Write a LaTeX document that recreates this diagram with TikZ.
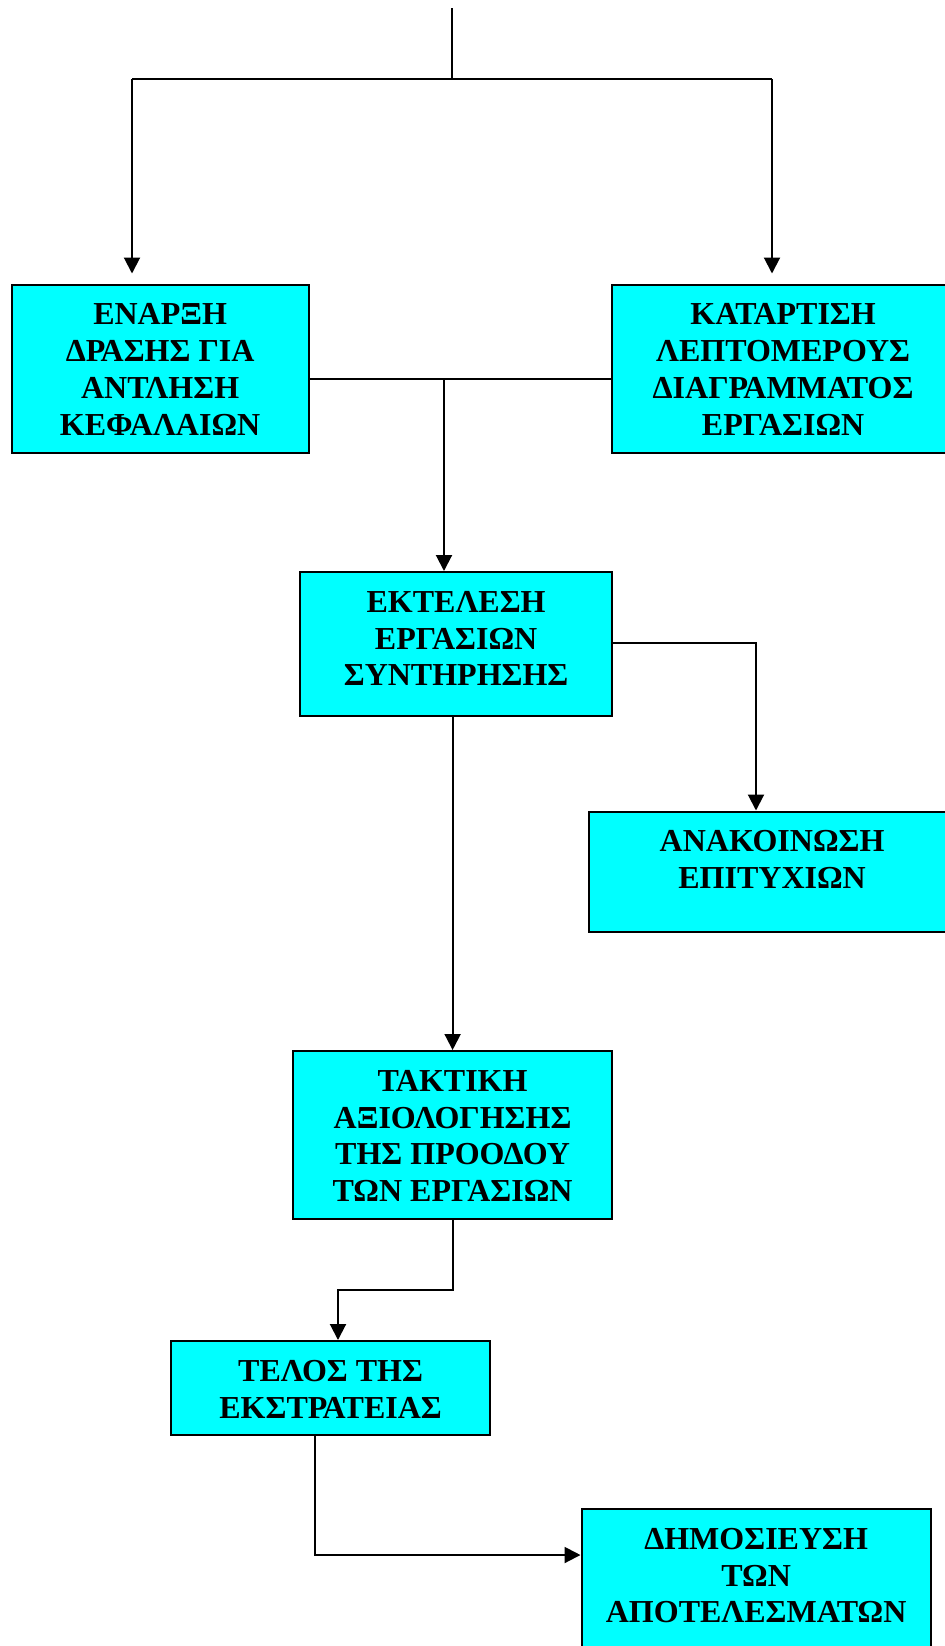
\documentclass[tikz,border=0pt]{standalone}
\usepackage{fontspec}
\setmainfont{Liberation Serif}
\usetikzlibrary{arrows.meta}
\definecolor{boxcyan}{RGB}{0,255,255}
\newcommand{\boxtext}[3]{\parbox[c][#2][t]{#1}{\centering\vspace{9.5pt}#3}}
\begin{document}
\begin{tikzpicture}[x=0.5pt, y=-0.5pt,
  box/.style={draw, line width=1.1pt, fill=boxcyan, inner sep=0pt, anchor=north west,
    font=\bfseries\fontsize{16pt}{18.4pt}\selectfont},
  link/.style={line width=1pt},
  >={Triangle[length=8pt,width=8pt]}]
\useasboundingbox (0,0) rectangle (945,1646);
\clip (0,0) rectangle (945,1646);
\node[box] (enarxi) at (10.5,283.5) {\boxtext{148.5pt}{84pt}{ΕΝΑΡΞΗ\\ΔΡΑΣΗΣ ΓΙΑ\\ΑΝΤΛΗΣΗ\\ΚΕΦΑΛΑΙΩΝ}};
\node[box] (katartisi) at (611,283.5) {\boxtext{171pt}{84pt}{ΚΑΤΑΡΤΙΣΗ\\ΛΕΠΤΟΜΕΡΟΥΣ\\ΔΙΑΓΡΑΜΜΑΤΟΣ\\ΕΡΓΑΣΙΩΝ}};
\node[box] (ektelesi) at (299,571) {\boxtext{156pt}{72pt}{ΕΚΤΕΛΕΣΗ\\ΕΡΓΑΣΙΩΝ\\ΣΥΝΤΗΡΗΣΗΣ}};
\node[box] (anakoinosi) at (588,810.5) {\boxtext{183pt}{60pt}{ΑΝΑΚΟΙΝΩΣΗ\\ΕΠΙΤΥΧΙΩΝ}};
\node[box] (taktiki) at (292,1050) {\boxtext{159.5pt}{84pt}{ΤΑΚΤΙΚΗ\\ΑΞΙΟΛΟΓΗΣΗΣ\\ΤΗΣ ΠΡΟΟΔΟΥ\\ΤΩΝ ΕΡΓΑΣΙΩΝ}};
\node[box] (telos) at (170,1340) {\boxtext{159.5pt}{47pt}{ΤΕΛΟΣ ΤΗΣ\\ΕΚΣΤΡΑΤΕΙΑΣ}};
\node[box] (dimosieusi) at (580.5,1508) {\boxtext{174.5pt}{84pt}{ΔΗΜΟΣΙΕΥΣΗ\\ΤΩΝ\\ΑΠΟΤΕΛΕΣΜΑΤΩΝ}};
% top fork
\coordinate (start) at (451.5,8);
\coordinate (fork) at (451.5,79);
\coordinate (forkleft) at (132,79);
\coordinate (forkright) at (772,79);
\draw[link] (start) -- (fork);
\draw[link] (forkleft) -- (forkright);
\draw[link, ->, shorten >=5pt] (forkleft) -- (forkleft |- enarxi.north);
\draw[link, ->, shorten >=5pt] (forkright) -- (forkright |- katartisi.north);
% join into the works
\coordinate (join) at (444,379);
\draw[link] (enarxi.east |- join) -- (katartisi.west |- join);
\draw[link, ->] (join) -- (join |- ektelesi.north);
\coordinate (annbend) at (756,643);
\draw[link, ->] (ektelesi.east |- annbend) -- (annbend) -- (annbend |- anakoinosi.north);
\draw[link, ->] (ektelesi.south -| taktiki.north) -- (taktiki.north);
\coordinate (evalbend) at (338,1290);
\draw[link, ->] (taktiki.south) |- (evalbend) -- (evalbend |- telos.north);
\coordinate (pubbend) at (315,1555);
\draw[link, ->] (telos.south -| pubbend) -- (pubbend) -- (pubbend -| dimosieusi.west);
\end{tikzpicture}
\end{document}
